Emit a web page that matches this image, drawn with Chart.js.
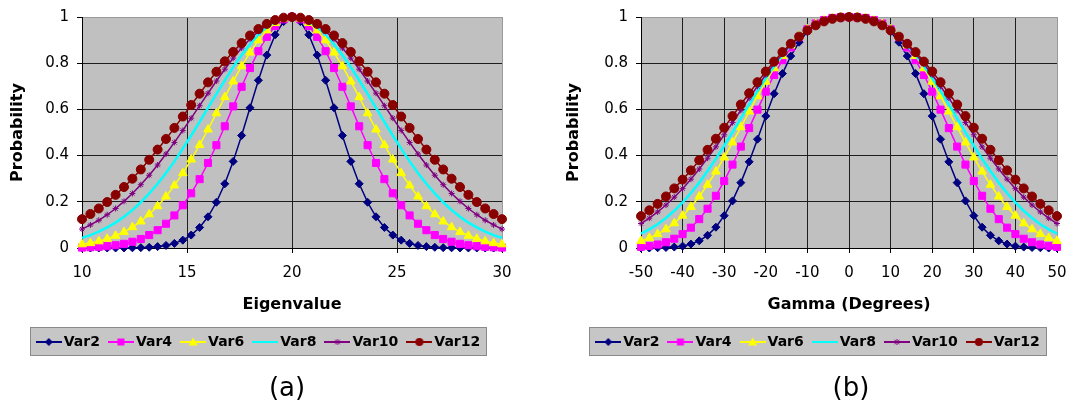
<!DOCTYPE html>
<html>
<head>
<meta charset="utf-8">
<script src="https://cdn.jsdelivr.net/npm/chart.js@4.4.1/dist/chart.umd.min.js"></script>
<style>
  body { margin: 0; background: #fff; }
  #wrap { position: relative; width: 1092px; height: 402px; }
  canvas { position: absolute; top: 0; }
</style>
</head>
<body>
<div id="wrap">
  <canvas id="chartA" width="546" height="402" style="left:0"></canvas>
  <canvas id="chartB" width="546" height="402" style="left:546px"></canvas>
</div>
<script>
// ---- data, panel (a) ----
const eigenvalue = [10, 10.4, 10.8, 11.2, 11.6, 12, 12.4, 12.8, 13.2, 13.6, 14, 14.4, 14.8, 15.2, 15.6, 16, 16.4, 16.8, 17.2, 17.6,
  18, 18.4, 18.8, 19.2, 19.6, 20, 20.4, 20.8, 21.2, 21.6, 22, 22.4, 22.8, 23.2, 23.6, 24, 24.4, 24.8, 25.2, 25.6,
  26, 26.4, 26.8, 27.2, 27.6, 28, 28.4, 28.8, 29.2, 29.6, 30];
const a_var2 = [0, 0, 0, 0.0001, 0.0001, 0.0003, 0.0007, 0.0015, 0.003, 0.006, 0.011, 0.020, 0.034, 0.056, 0.089, 0.135, 0.198, 0.278, 0.375, 0.487,
  0.607, 0.726, 0.835, 0.923, 0.980, 1, 0.980, 0.923, 0.835, 0.726, 0.607, 0.487, 0.375, 0.278, 0.198, 0.135, 0.089, 0.056, 0.034, 0.020,
  0.011, 0.006, 0.003, 0.0015, 0.0007, 0.0003, 0.0001, 0.0001, 0, 0, 0];
const a_var4 = [0.0019, 0.0032, 0.0050, 0.0079, 0.012, 0.018, 0.027, 0.039, 0.056, 0.077, 0.105, 0.141, 0.185, 0.237, 0.298, 0.368, 0.445, 0.527, 0.613, 0.698,
  0.779, 0.852, 0.914, 0.961, 0.990, 1, 0.990, 0.961, 0.914, 0.852, 0.779, 0.698, 0.613, 0.527, 0.445, 0.368, 0.298, 0.237, 0.185, 0.141,
  0.105, 0.077, 0.056, 0.039, 0.027, 0.018, 0.012, 0.0079, 0.0050, 0.0032, 0.0019];
const a_var6 = [0.016, 0.021, 0.029, 0.040, 0.053, 0.069, 0.090, 0.115, 0.146, 0.181, 0.223, 0.271, 0.324, 0.383, 0.446, 0.513, 0.583, 0.653, 0.721, 0.787,
  0.846, 0.899, 0.942, 0.974, 0.993, 1, 0.993, 0.974, 0.942, 0.899, 0.846, 0.787, 0.721, 0.653, 0.583, 0.513, 0.446, 0.383, 0.324, 0.271,
  0.223, 0.181, 0.146, 0.115, 0.090, 0.069, 0.053, 0.040, 0.029, 0.021, 0.016];
const a_var8 = [0.044, 0.056, 0.071, 0.089, 0.110, 0.135, 0.164, 0.198, 0.236, 0.278, 0.325, 0.375, 0.430, 0.487, 0.546, 0.607, 0.667, 0.726, 0.783, 0.835,
  0.882, 0.923, 0.956, 0.980, 0.995, 1, 0.995, 0.980, 0.956, 0.923, 0.882, 0.835, 0.783, 0.726, 0.667, 0.607, 0.546, 0.487, 0.430, 0.375,
  0.325, 0.278, 0.236, 0.198, 0.164, 0.135, 0.110, 0.089, 0.071, 0.056, 0.044];
const a_var10 = [0.082, 0.100, 0.120, 0.144, 0.171, 0.202, 0.236, 0.274, 0.315, 0.359, 0.407, 0.457, 0.509, 0.562, 0.616, 0.670, 0.723, 0.774, 0.822, 0.866,
  0.905, 0.938, 0.965, 0.984, 0.996, 1, 0.996, 0.984, 0.965, 0.938, 0.905, 0.866, 0.822, 0.774, 0.723, 0.670, 0.616, 0.562, 0.509, 0.457,
  0.407, 0.359, 0.315, 0.274, 0.236, 0.202, 0.171, 0.144, 0.120, 0.100, 0.082];
const a_var12 = [0.125, 0.147, 0.171, 0.199, 0.230, 0.264, 0.300, 0.340, 0.382, 0.426, 0.472, 0.520, 0.569, 0.619, 0.668, 0.717, 0.763, 0.808, 0.849, 0.887,
  0.920, 0.948, 0.970, 0.987, 0.997, 1, 0.997, 0.987, 0.970, 0.948, 0.920, 0.887, 0.849, 0.808, 0.763, 0.717, 0.668, 0.619, 0.569, 0.520,
  0.472, 0.426, 0.382, 0.340, 0.300, 0.264, 0.230, 0.199, 0.171, 0.147, 0.125];

// ---- data, panel (b) ----
const gamma = [-50, -48, -46, -44, -42, -40, -38, -36, -34, -32, -30, -28, -26, -24, -22, -20, -18, -16, -14, -12,
  -10, -8, -6, -4, -2, 0, 2, 4, 6, 8, 10, 12, 14, 16, 18, 20, 22, 24, 26, 28,
  30, 32, 34, 36, 38, 40, 42, 44, 46, 48, 50];
const b_var2 = [0, 0, 0.001, 0.002, 0.004, 0.008, 0.017, 0.031, 0.055, 0.090, 0.140, 0.204, 0.283, 0.373, 0.471, 0.571, 0.668, 0.755, 0.831, 0.891,
  0.937, 0.968, 0.987, 0.996, 0.9996, 1, 0.9996, 0.996, 0.987, 0.968, 0.937, 0.891, 0.831, 0.755, 0.668, 0.571, 0.471, 0.373, 0.283, 0.204,
  0.140, 0.090, 0.055, 0.031, 0.017, 0.008, 0.004, 0.002, 0.001, 0, 0];
const b_var4 = [0.005, 0.009, 0.015, 0.025, 0.040, 0.060, 0.088, 0.125, 0.170, 0.226, 0.290, 0.361, 0.439, 0.519, 0.599, 0.677, 0.749, 0.813, 0.868, 0.913,
  0.947, 0.972, 0.987, 0.996, 0.999, 1, 0.999, 0.996, 0.987, 0.972, 0.947, 0.913, 0.868, 0.813, 0.749, 0.677, 0.599, 0.519, 0.439, 0.361,
  0.290, 0.226, 0.170, 0.125, 0.088, 0.060, 0.040, 0.025, 0.015, 0.009, 0.005];
const b_var6 = [0.030, 0.043, 0.060, 0.081, 0.107, 0.140, 0.178, 0.223, 0.274, 0.331, 0.392, 0.457, 0.523, 0.591, 0.657, 0.720, 0.778, 0.831, 0.877, 0.916,
  0.946, 0.970, 0.985, 0.995, 0.999, 1, 0.999, 0.995, 0.985, 0.970, 0.946, 0.916, 0.877, 0.831, 0.778, 0.720, 0.657, 0.591, 0.523, 0.457,
  0.392, 0.331, 0.274, 0.223, 0.178, 0.140, 0.107, 0.081, 0.060, 0.043, 0.030];
const b_var8 = [0.062, 0.081, 0.103, 0.130, 0.161, 0.197, 0.238, 0.283, 0.333, 0.386, 0.443, 0.501, 0.561, 0.621, 0.679, 0.735, 0.787, 0.835, 0.877, 0.914,
  0.943, 0.966, 0.983, 0.994, 0.999, 1, 0.999, 0.994, 0.983, 0.966, 0.943, 0.914, 0.877, 0.835, 0.787, 0.735, 0.679, 0.621, 0.561, 0.501,
  0.443, 0.386, 0.333, 0.283, 0.238, 0.197, 0.161, 0.130, 0.103, 0.081, 0.062];
const b_var10 = [0.106, 0.129, 0.156, 0.186, 0.220, 0.257, 0.298, 0.342, 0.389, 0.438, 0.490, 0.543, 0.596, 0.649, 0.700, 0.750, 0.797, 0.840, 0.879, 0.912,
  0.941, 0.964, 0.981, 0.992, 0.998, 1, 0.998, 0.992, 0.981, 0.964, 0.941, 0.912, 0.879, 0.840, 0.797, 0.750, 0.700, 0.649, 0.596, 0.543,
  0.490, 0.438, 0.389, 0.342, 0.298, 0.257, 0.220, 0.186, 0.156, 0.129, 0.106];
const b_var12 = [0.138, 0.163, 0.191, 0.223, 0.258, 0.296, 0.336, 0.380, 0.425, 0.473, 0.521, 0.571, 0.621, 0.670, 0.718, 0.764, 0.807, 0.848, 0.884, 0.915,
  0.942, 0.964, 0.981, 0.992, 0.998, 1, 0.998, 0.992, 0.981, 0.964, 0.942, 0.915, 0.884, 0.848, 0.807, 0.764, 0.718, 0.670, 0.621, 0.571,
  0.521, 0.473, 0.425, 0.380, 0.336, 0.296, 0.258, 0.223, 0.191, 0.163, 0.138];

const seriesNames = ['Var2', 'Var4', 'Var6', 'Var8', 'Var10', 'Var12'];
const colors = ['#000080', '#ff00ff', '#ffff00', '#00ffff', '#800080', '#880000'];
const markers = ['rectRot', 'rect', 'triangle', null, 'star', 'circle'];
const markerSize = [4, 5, 5, 0, 3, 4.5];
const lineWidths = [1.5, 1.5, 1.5, 2.5, 1.5, 1.5];

const FONT = '"DejaVu Sans", sans-serif';

// little "line with marker" pictures for the legend, Excel style
function legendIcon(i) {
  const c = document.createElement('canvas');
  c.width = 26; c.height = 12;
  const g = c.getContext('2d');
  g.strokeStyle = colors[i];
  g.fillStyle = colors[i];
  g.lineWidth = 2;
  g.beginPath(); g.moveTo(0, 6); g.lineTo(26, 6); g.stroke();
  g.lineWidth = 1;
  g.beginPath();
  if (markers[i] === 'rectRot') {
    g.moveTo(13, 2); g.lineTo(17, 6); g.lineTo(13, 10); g.lineTo(9, 6); g.closePath(); g.fill();
  } else if (markers[i] === 'rect') {
    g.fillRect(9.5, 2.5, 7, 7);
  } else if (markers[i] === 'triangle') {
    g.moveTo(13, 1.5); g.lineTo(17.5, 9.5); g.lineTo(8.5, 9.5); g.closePath(); g.fill();
  } else if (markers[i] === 'star') {
    g.moveTo(13, 3); g.lineTo(13, 9); g.moveTo(10.5, 4); g.lineTo(15.5, 8); g.moveTo(15.5, 4); g.lineTo(10.5, 8); g.stroke();
  } else if (markers[i] === 'circle') {
    g.arc(13, 6, 4, 0, Math.PI * 2); g.fill();
  }
  return c;
}
const icons = seriesNames.map((n, i) => legendIcon(i));

function makeDatasets(xs, ysList) {
  return ysList.map((ys, i) => ({
    label: seriesNames[i],
    data: xs.map((x, j) => ({ x: x, y: ys[j] })),
    showLine: true,
    borderColor: colors[i],
    backgroundColor: colors[i],
    borderWidth: lineWidths[i],
    pointStyle: markers[i] || 'circle',
    pointRadius: markers[i] ? markerSize[i] : 0,
    pointBorderWidth: 1,
    pointBorderColor: colors[i],
    pointBackgroundColor: colors[i],
    order: 6 - i,
    clip: false
  }));
}

// grey plot area, grey legend box and the (a)/(b) caption
const panelDecor = {
  id: 'panelDecor',
  beforeDraw(chart) {
    const { ctx, chartArea: a } = chart;
    ctx.save();
    ctx.fillStyle = '#c0c0c0';
    ctx.fillRect(a.left, a.top, a.right - a.left, a.bottom - a.top);
    const boxes = chart.legend && chart.legend.legendHitBoxes;
    if (boxes && boxes.length) {
      const first = boxes[0], last = boxes[boxes.length - 1];
      const cy = Math.round(first.top + first.height / 2);
      const x0 = Math.round(first.left - 11), x1 = Math.round(last.left + last.width + 7);
      ctx.fillStyle = '#c6c6c6';
      ctx.fillRect(x0, cy - 15, x1 - x0, 29);
      ctx.strokeStyle = '#8a8a8a';
      ctx.lineWidth = 1;
      ctx.strokeRect(x0 + 0.5, cy - 14.5, x1 - x0 - 1, 28);
    }
    ctx.restore();
  },
  afterDraw(chart, args, opts) {
    const ctx = chart.ctx;
    ctx.save();
    ctx.font = '26px ' + FONT;
    ctx.fillStyle = '#000';
    ctx.textAlign = 'center';
    ctx.textBaseline = 'middle';
    ctx.fillText(opts.caption, opts.captionX, 389);
    ctx.restore();
  }
};

function gridColor(max) {
  return (c) => (c.tick && c.tick.value === max) ? '#9a9a9a' : '#1e1e1e';
}

function makeChart(id, cfg) {
  return new Chart(document.getElementById(id), {
    type: 'scatter',
    data: { datasets: makeDatasets(cfg.xs, cfg.ys) },
    options: {
      responsive: false,
      devicePixelRatio: 1,
      animation: false,
      layout: { padding: cfg.padding, autoPadding: false },
      plugins: {
        tooltip: { enabled: false },
        title: { display: false },
        legend: {
          position: 'bottom',
          labels: {
            usePointStyle: true,
            pointStyleWidth: 16,
            padding: 13,
            color: '#000',
            font: { family: FONT, size: 14, weight: 'bold' },
            generateLabels: () => seriesNames.map((n, i) => ({
              text: n, pointStyle: icons[i], datasetIndex: i, hidden: false, lineWidth: 0, fontColor: '#000'
            }))
          }
        },
        panelDecor: { caption: cfg.caption, captionX: cfg.captionX }
      },
      scales: {
        x: {
          type: 'linear',
          min: cfg.xMin, max: cfg.xMax,
          ticks: { stepSize: cfg.xStep, color: '#000', font: { family: FONT, size: 15 }, padding: 11, maxRotation: 0 },
          grid: { color: gridColor(cfg.xMax), lineWidth: 1, tickLength: 5, tickColor: '#000' },
          border: { color: '#000', width: 1 },
          title: { display: true, text: cfg.xTitle, color: '#000', font: { family: FONT, size: 16, weight: 'bold' }, padding: { top: 0, bottom: 8 } },
          afterFit: (s) => { s.height = 74; }
        },
        y: {
          min: 0, max: 1,
          ticks: {
            stepSize: 0.2, color: '#000', font: { family: FONT, size: 15 }, padding: 8,
            callback: (v) => String(Math.round(v * 10) / 10)
          },
          grid: { color: gridColor(1), lineWidth: 1, tickLength: 5, tickColor: '#000' },
          border: { color: '#000', width: 1 },
          title: { display: true, text: 'Probability', color: '#000', font: { family: FONT, size: 16, weight: 'bold' }, padding: { top: cfg.yTitlePad, bottom: 0 } },
          afterFit: (s) => { s.width = cfg.yWidth; }
        }
      }
    },
    plugins: [panelDecor]
  });
}

makeChart('chartA', {
  xs: eigenvalue,
  ys: [a_var2, a_var4, a_var6, a_var8, a_var10, a_var12],
  xMin: 10, xMax: 30, xStep: 5,
  xTitle: 'Eigenvalue',
  padding: { left: 19, right: 44, top: 17, bottom: 43 },
  yWidth: 63, yTitlePad: -11,
  caption: '(a)', captionX: 287
});

makeChart('chartB', {
  xs: gamma,
  ys: [b_var2, b_var4, b_var6, b_var8, b_var10, b_var12],
  xMin: -50, xMax: 50, xStep: 10,
  xTitle: 'Gamma (Degrees)',
  padding: { left: 37, right: 35, top: 17, bottom: 43 },
  yWidth: 58, yTitlePad: -19,
  caption: '(b)', captionX: 305
});
</script>
</body>
</html>
